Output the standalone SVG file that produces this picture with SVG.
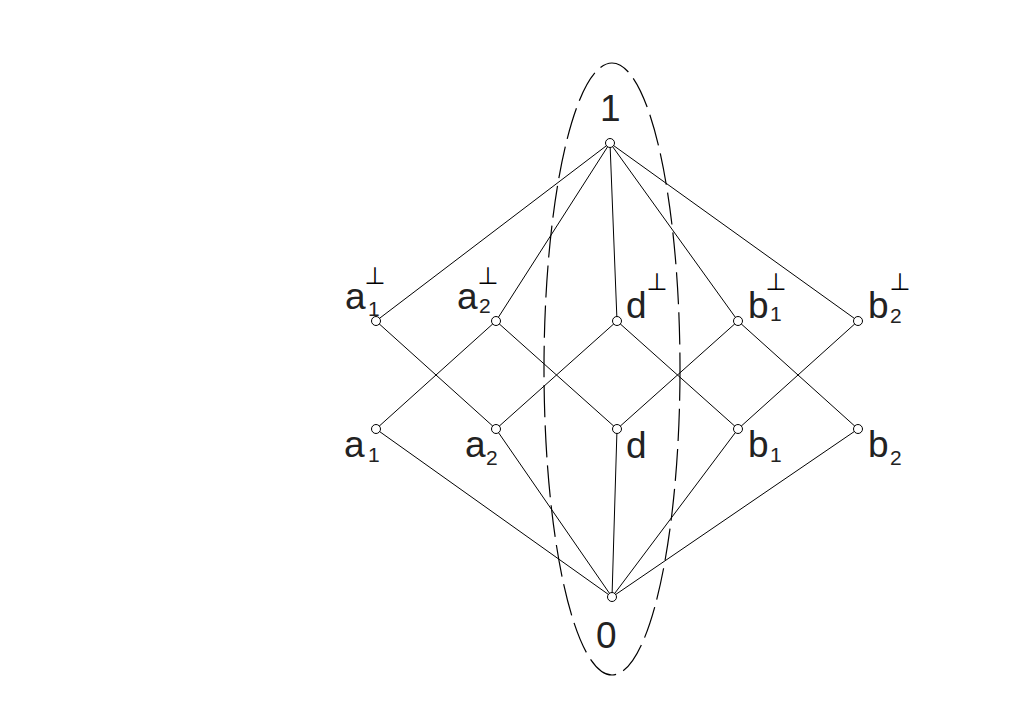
<svg xmlns="http://www.w3.org/2000/svg" width="1016" height="718" viewBox="0 0 1016 718">
<style>
.e{stroke:#000;stroke-width:1;fill:none}
.n{stroke:#000;stroke-width:1;fill:#fff}
.l{font-family:"Liberation Sans",Arial,sans-serif;font-size:37px;fill:#222}
.s{font-family:"Liberation Sans",Arial,sans-serif;font-size:21px;fill:#222}
.p{font-family:"DejaVu Sans",sans-serif;font-size:24px;fill:#000;text-anchor:middle}
</style>
<rect width="1016" height="718" fill="#fff"/>
<ellipse cx="612" cy="369" rx="68" ry="306" fill="none" stroke="#000" stroke-width="1.2" stroke-dasharray="32 8"/>
<g id="connectors" class="e">
<line x1="610" y1="143" x2="376" y2="321"/>
<line x1="610" y1="143" x2="496" y2="321"/>
<line x1="610" y1="143" x2="617" y2="321"/>
<line x1="610" y1="143" x2="738" y2="321"/>
<line x1="610" y1="143" x2="858" y2="321"/>
<line x1="612" y1="597" x2="376" y2="429"/>
<line x1="612" y1="597" x2="496" y2="429"/>
<line x1="612" y1="597" x2="617" y2="429"/>
<line x1="612" y1="597" x2="738" y2="429"/>
<line x1="612" y1="597" x2="858" y2="429"/>
<line x1="376" y1="321" x2="496" y2="429"/>
<line x1="496" y1="321" x2="376" y2="429"/>
<line x1="496" y1="321" x2="617" y2="429"/>
<line x1="617" y1="321" x2="496" y2="429"/>
<line x1="617" y1="321" x2="738" y2="429"/>
<line x1="738" y1="321" x2="617" y2="429"/>
<line x1="738" y1="321" x2="858" y2="429"/>
<line x1="858" y1="321" x2="738" y2="429"/>
</g>
<g id="top"><circle class="n" cx="610" cy="143" r="4.5"/><text class="l" x="600" y="121">1</text></g>
<g id="bottom"><circle class="n" cx="612" cy="597" r="4.5"/><text class="l" x="596" y="648">0</text></g>
<g id="a1perp"><circle class="n" cx="376" cy="321" r="4.5"/><text class="l" x="345" y="309">a</text><text class="s" x="368" y="316">1</text><text class="p" x="375" y="284">⊥</text></g>
<g id="a2perp"><circle class="n" cx="496" cy="321" r="4.5"/><text class="l" x="457" y="309">a</text><text class="s" x="479" y="313">2</text><text class="p" x="488" y="284">⊥</text></g>
<g id="dperp"><circle class="n" cx="617" cy="321" r="4.5"/><text class="l" x="626" y="318">d</text><text class="p" x="657" y="290">⊥</text></g>
<g id="b1perp"><circle class="n" cx="738" cy="321" r="4.5"/><text class="l" x="748" y="318">b</text><text class="s" x="770" y="321">1</text><text class="p" x="776" y="290">⊥</text></g>
<g id="b2perp"><circle class="n" cx="858" cy="321" r="4.5"/><text class="l" x="868" y="318">b</text><text class="s" x="890" y="323">2</text><text class="p" x="900" y="290">⊥</text></g>
<g id="a1"><circle class="n" cx="376" cy="429" r="4.5"/><text class="l" x="344" y="457">a</text><text class="s" x="368" y="462">1</text></g>
<g id="a2"><circle class="n" cx="496" cy="429" r="4.5"/><text class="l" x="465" y="457">a</text><text class="s" x="486" y="465">2</text></g>
<g id="d"><circle class="n" cx="617" cy="429" r="4.5"/><text class="l" x="626" y="458">d</text></g>
<g id="b1"><circle class="n" cx="738" cy="429" r="4.5"/><text class="l" x="748" y="457">b</text><text class="s" x="770" y="462">1</text></g>
<g id="b2"><circle class="n" cx="858" cy="429" r="4.5"/><text class="l" x="868" y="457">b</text><text class="s" x="890" y="465">2</text></g>
</svg>
